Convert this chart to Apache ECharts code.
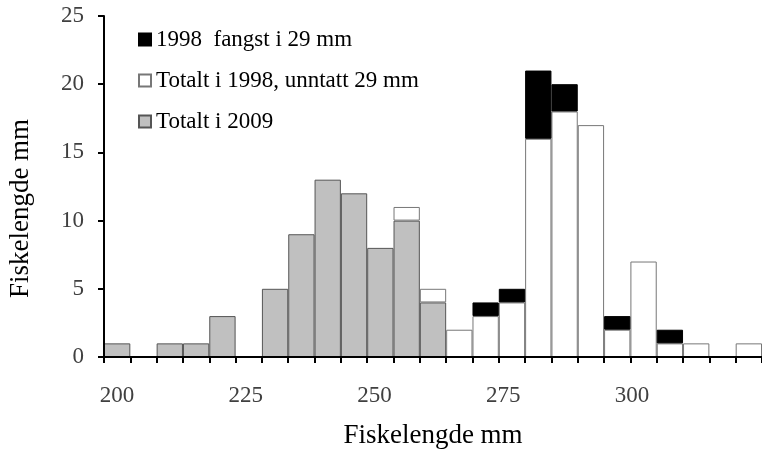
<!DOCTYPE html>
<html><head><meta charset="utf-8">
<script src="https://cdn.jsdelivr.net/npm/echarts@6/dist/echarts.min.js"></script>
<style>html,body{margin:0;padding:0;background:#fff}#c{width:762px;height:449px}</style>
</head><body><div id="c"></div>
<script>
const categories = ['200','205','210','215','220','225','230','235','240','245','250','255','260','265','270','275','280','285','290','295','300','305','310','315','320'];
const gray2009   = [1,0,1,1,3,0,5,9,13,12,8,10,4,0,0,0,0,0,0,0,0,0,0,0,0];
const white1998  = [0,0,0,0,0,0,0,0,0,0,0,1,1,2,3,4,16,18,17,2,7,1,1,0,1];
const black1998  = [0,0,0,0,0,0,0,0,0,0,0,0,0,0,1,1,5,2,0,1,0,1,0,0,0];
const xTickLabels = [200,225,250,275,300];
const yTicks = [0,5,10,15,20,25];
const seriesNames = ['1998  fangst i 29 mm','Totalt i 1998, unntatt 29 mm','Totalt i 2009'];

const noZero = arr => arr.map(v => v === 0 ? null : v);
const font = 'Liberation Serif';
const chart = echarts.init(document.getElementById('c'));
chart.setOption({
  animation: false,
  textStyle: {fontFamily: font},
  grid: {left: 104, right: 0, top: 16, bottom: 92, containLabel: false, outerBoundsMode: 'none'},
  legend: {
    orient: 'vertical', left: 133, top: 23, itemGap: 18, itemWidth: 12, itemHeight: 12,
    icon: 'rect',
    textStyle: {fontFamily: font, fontSize: 23, color: '#000'},
    data: seriesNames
  },
  xAxis: [{
    type: 'category', data: categories, z: 5,
    axisLine: {lineStyle: {color: '#000', width: 2}},
    axisTick: {show: true, interval: 0, length: 6, lineStyle: {color: '#000', width: 2}},
    axisLabel: {show: false},
    name: 'Fiskelengde mm', nameLocation: 'middle', nameGap: 65,
    nameTextStyle: {fontFamily: font, fontSize: 27, color: '#000'}
  }, {
    type: 'value', position: 'bottom', min: 197.5, max: 325.25,
    axisLine: {show: false}, axisTick: {show: false}, splitLine: {show: false},
    axisLabel: {customValues: xTickLabels, fontFamily: font, fontSize: 23, color: '#404040', margin: 27}
  }],
  yAxis: {
    type: 'value', min: 0, max: 25, interval: 5, z: 5,
    axisLine: {show: true, lineStyle: {color: '#000', width: 2}},
    axisTick: {show: true, length: 6, lineStyle: {color: '#000', width: 2}},
    splitLine: {show: false},
    axisLabel: {fontFamily: font, fontSize: 23, color: '#404040', margin: 20,
      formatter: v => yTicks.includes(v) ? String(v) : ''},
    name: 'Fiskelengde mm', nameLocation: 'middle', nameGap: 70, nameRotate: 90,
    nameTextStyle: {fontFamily: font, fontSize: 27, color: '#000', padding: [0, 44, 0, 0]}
  },
  series: [
    {name: seriesNames[2], type: 'bar', stack: 'a', data: noZero(gray2009), barCategoryGap: '0%',
     itemStyle: {color: '#c0c0c0', borderColor: '#555', borderWidth: 1}},
    {name: seriesNames[1], type: 'bar', stack: 'a', data: noZero(white1998),
     itemStyle: {color: '#fff', borderColor: '#777', borderWidth: 1}},
    {name: seriesNames[0], type: 'bar', stack: 'a', data: noZero(black1998),
     itemStyle: {color: '#000', borderColor: '#000', borderWidth: 1}}
  ]
});
</script></body></html>
